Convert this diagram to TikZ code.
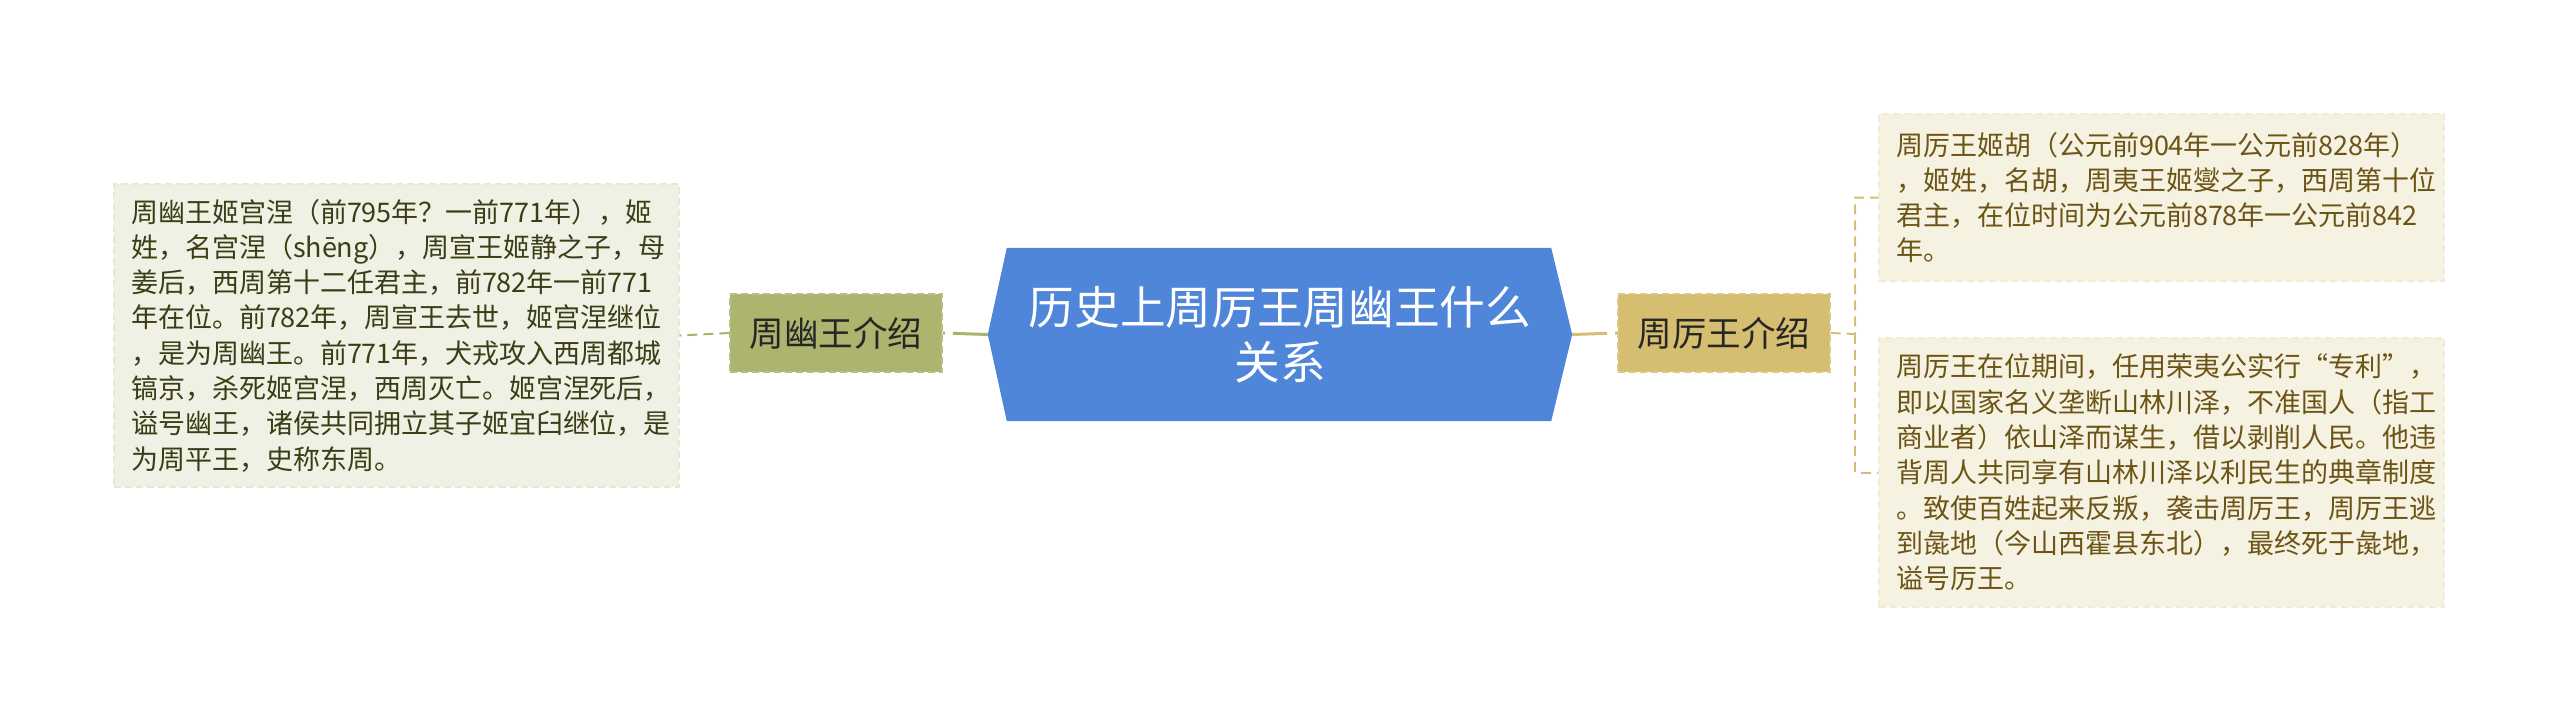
\documentclass[tikz,border=0pt]{standalone}
\usepackage{fontspec}
\setmainfont{Noto Sans CJK SC}
\usetikzlibrary{backgrounds}
\definecolor{rootblue}{RGB}{79,134,218}
\definecolor{youfill}{RGB}{172,180,110}
\definecolor{youline}{RGB}{170,178,110}
\definecolor{youleaf}{RGB}{240,240,228}
\definecolor{youtextc}{RGB}{58,62,22}
\definecolor{lifill}{RGB}{214,190,112}
\definecolor{liline}{RGB}{212,190,118}
\definecolor{lileaf}{RGB}{246,242,225}
\definecolor{litextc}{RGB}{108,84,22}

\begin{document}
\begin{tikzpicture}[x = 1pt, y = -1pt,
    branch/.style = {minimum width = 212pt, minimum height = 78pt, inner sep = 0pt, font = \fontsize{34.6}{40}\selectfont, text = black!85, dash pattern = on 7pt off 4pt, line width = 1.2pt},
    leaf/.style = {inner xsep = 17pt, inner ysep = 0pt, text width = 531pt, align = left, font = \fontsize{27}{35.3}\selectfont, dash pattern = on 7pt off 4pt, line width = 1.2pt},
    trunk/.style = {line width = 3pt, dash pattern = on 35pt off 8pt},
    twig/.style = {line width = 2pt, dash pattern = on 10pt off 6pt}]

    \useasboundingbox (0,0) rectangle (2560,723);

    \node (root) at (1280,334.5) [minimum width = 584pt, minimum height = 173pt, inner sep = 0pt, align = center, text = white, font = \fontsize{45.7}{55.5}\selectfont] {历史上周厉王周幽王什么\\关系};
    \begin{pgfonlayer}{background}
      \fill [rootblue] (root.west) -- ([xshift = 19pt]root.north west) -- ([xshift = -21pt]root.north east) -- (root.east) -- ([xshift = -21pt]root.south east) -- ([xshift = 19pt]root.south west) -- cycle;
    \end{pgfonlayer}

    \node (youwang) at (836,333) [branch, fill = youfill, draw = youfill!85!white] {周幽王介绍};
    \node (liwang) at (1724,333) [branch, fill = lifill, draw = lifill!85!white] {周厉王介绍};

    \node (youtext) at (396.5,335.5) [leaf, minimum height = 303pt, fill = youleaf, draw = youline!30, text = youtextc] {周幽王姬宫涅（前795年？一前771年），姬\\姓，名宫涅（shēng），周宣王姬静之子，母\\姜后，西周第十二任君主，前782年一前771\\年在位。前782年，周宣王去世，姬宫涅继位\\，是为周幽王。前771年，犬戎攻入西周都城\\镐京，杀死姬宫涅，西周灭亡。姬宫涅死后，\\谥号幽王，诸侯共同拥立其子姬宜臼继位，是\\为周平王，史称东周。};
    \node (litext1) at (2161.5,197.5) [leaf, minimum height = 167pt, fill = lileaf, draw = liline!30, text = litextc] {周厉王姬胡（公元前904年一公元前828年）\\，姬姓，名胡，周夷王姬燮之子，西周第十位\\君主，在位时间为公元前878年一公元前842\\年。};
    \node (litext2) at (2161.5,472.5) [leaf, minimum height = 269pt, fill = lileaf, draw = liline!30, text = litextc] {周厉王在位期间，任用荣夷公实行“专利”，\\即以国家名义垄断山林川泽，不准国人（指工\\商业者）依山泽而谋生，借以剥削人民。他违\\背周人共同享有山林川泽以利民生的典章制度\\。致使百姓起来反叛，袭击周厉王，周厉王逃\\到彘地（今山西霍县东北），最终死于彘地，\\谥号厉王。};

    \coordinate (fork) at (1855,334);

    \draw [trunk, youline] (root.west) -- (youwang.east);
    \draw [twig, youline] (youwang.west) -- (youtext.east);
    \draw [trunk, liline] (root.east) -- (liwang.west);
    \draw [twig, liline] (liwang.east) -- (fork) |- (litext1.west);
    \draw [twig, liline] (fork) |- (litext2.west);
\end{tikzpicture}
\end{document}
